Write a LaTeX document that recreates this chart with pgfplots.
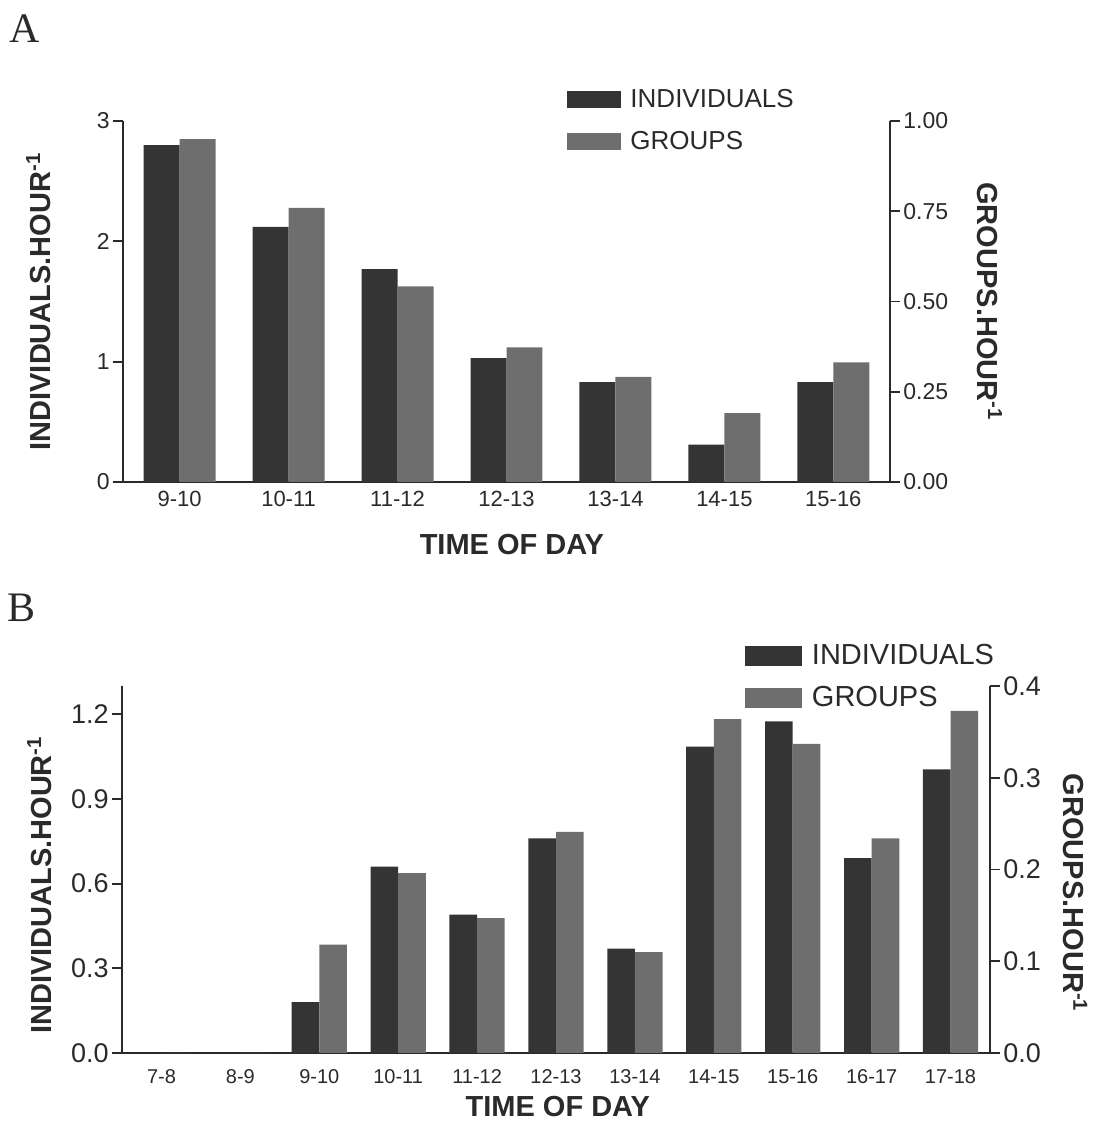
\documentclass[border=0pt]{standalone}
\usepackage{fontspec}
\setmainfont{Liberation Sans}
\newfontfamily\serifA{Liberation Serif}
\usepackage{pgfplots}
\usepackage{pgfplotstable}
\pgfplotsset{compat=1.18}

\definecolor{indiv}{HTML}{343434}
\definecolor{grp}{HTML}{6e6e6e}
\definecolor{axc}{HTML}{2a2a2a}

% panel A: 9-10 ... 15-16
\pgfplotstableread{
x ind grp
0 2.80 0.950
1 2.12 0.759
2 1.77 0.542
3 1.03 0.373
4 0.83 0.291
5 0.31 0.191
6 0.83 0.331
}\dataA

% panel B: 7-8 ... 17-18
\pgfplotstableread{
x ind grp
0 0.00 0.000
1 0.00 0.000
2 0.18 0.118
3 0.66 0.196
4 0.49 0.147
5 0.76 0.241
6 0.37 0.110
7 1.085 0.364
8 1.175 0.337
9 0.69 0.234
10 1.005 0.373
}\dataB

\tikzset{labfont/.style={font=\bfseries\fontsize{14.5}{15}\selectfont, text=axc}}

\pgfplotsset{
  base/.style={
    scale only axis, clip=false, ymin=0,
    axis line style={axc, line width=0.9pt, -},
    tick style={axc, line width=0.9pt},
    tick align=outside, major tick length=5pt,
    xtick style={draw=none},
    /pgf/number format/assume math mode=true,
    /pgf/number format/fixed, /pgf/number format/fixed zerofill,
    yticklabel style={inner sep=1.5pt, text=axc},
    xticklabel style={text=axc, text height=0.72em, text depth=0pt},
  },
}

\begin{document}
\begin{tikzpicture}
\useasboundingbox (0,0) rectangle (550pt,562.5pt);

\node[font=\serifA\fontsize{21}{21}\selectfont, text=axc] at (12.5pt,548pt) {A};
\node[font=\serifA\fontsize{21}{21}\selectfont, text=axc] at (11pt,258.5pt) {B};

% ---------- panel A ----------
\begin{axis}[base, at={(61.5pt,321.5pt)}, anchor=south west,
  width=383.5pt, height=180.5pt,
  xmin=-0.52, xmax=6.52, ymax=3,
  axis y line*=left, axis x line*=bottom,
  ytick={0,1,2,3}, /pgf/number format/precision=0,
  xtick={0,...,6},
  xticklabels={9-10,10-11,11-12,12-13,13-14,14-15,15-16},
  xticklabel style={font=\fontsize{11}{12}\selectfont, yshift=3.5pt},
  yticklabel style={font=\fontsize{11.5}{12}\selectfont},
]
\addplot[ybar, bar width=0.33, bar shift=-0.165, fill=indiv, draw=none]
  table[x=x, y=ind] {\dataA};
\node[labfont, rotate=90] at (axis description cs:-0.11,0.5) {INDIVIDUALS.HOUR\textsuperscript{-1}};
\node[labfont] at (axis description cs:0.507,-0.1745) {TIME OF DAY};
\end{axis}

\begin{axis}[base, at={(61.5pt,321.5pt)}, anchor=south west,
  width=383.5pt, height=180.5pt,
  xmin=-0.52, xmax=6.52, ymax=1,
  axis y line*=right, axis x line=none,
  ytick={0,0.25,0.5,0.75,1}, /pgf/number format/precision=2,
  yticklabel style={font=\fontsize{11.5}{12}\selectfont},
  legend style={at={(axis description cs:0.579,1.0875)}, anchor=north west,
    draw=none, fill=none, inner sep=0pt, outer sep=0pt, row sep=10.4pt,
    font=\fontsize{13}{13}\selectfont, text=axc,
    nodes={inner sep=0pt}, cells={anchor=west}},
  legend image code/.code={\fill[#1] (0pt,-4.25pt) rectangle (27pt,4.25pt); \path (31.7pt,0pt);},
]
\addlegendimage{fill=indiv, draw=none}
\addlegendentry{INDIVIDUALS}
\addplot[ybar, bar width=0.33, bar shift=0.165, fill=grp, draw=none]
  table[x=x, y=grp] {\dataA};
\addlegendentry{GROUPS}
\node[labfont, rotate=-90] at (axis description cs:1.13,0.5) {GROUPS.HOUR\textsuperscript{-1}};
\end{axis}

% ---------- panel B ----------
\begin{axis}[base, at={(61pt,36pt)}, anchor=south west,
  width=434pt, height=183.5pt,
  xmin=-0.5, xmax=10.5, ymax=1.3,
  axis y line*=left, axis x line*=bottom,
  ytick={0,0.3,0.6,0.9,1.2}, /pgf/number format/precision=1,
  xtick={0,...,10},
  xticklabels={7-8,8-9,9-10,10-11,11-12,12-13,13-14,14-15,15-16,16-17,17-18},
  xticklabel style={font=\fontsize{10}{11}\selectfont, yshift=0.5pt},
  yticklabel style={font=\fontsize{13.5}{14}\selectfont},
]
\addplot[ybar, bar width=0.35, bar shift=-0.175, fill=indiv, draw=none]
  table[x=x, y=ind] {\dataB};
\node[labfont, rotate=90] at (axis description cs:-0.095,0.458) {INDIVIDUALS.HOUR\textsuperscript{-1}};
\node[labfont] at (axis description cs:0.502,-0.145) {TIME OF DAY};
\end{axis}

\begin{axis}[base, at={(61pt,36pt)}, anchor=south west,
  width=434pt, height=183.5pt,
  xmin=-0.5, xmax=10.5, ymax=0.4,
  axis y line*=right, axis x line=none,
  ytick={0,0.1,0.2,0.3,0.4}, /pgf/number format/precision=1,
  yticklabel style={font=\fontsize{13.5}{14}\selectfont},
  legend style={at={(axis description cs:0.7177,1.113)}, anchor=north west,
    draw=none, fill=none, inner sep=0pt, outer sep=0pt, row sep=9.35pt,
    font=\fontsize{14.5}{15}\selectfont, text=axc,
    nodes={inner sep=0pt}, cells={anchor=west}},
  legend image code/.code={\fill[#1] (0pt,-5pt) rectangle (28.5pt,5pt); \path (33.5pt,0pt);},
]
\addlegendimage{fill=indiv, draw=none}
\addlegendentry{INDIVIDUALS}
\addplot[ybar, bar width=0.35, bar shift=0.175, fill=grp, draw=none]
  table[x=x, y=grp] {\dataB};
\addlegendentry{GROUPS}
\node[labfont, rotate=-90] at (axis description cs:1.098,0.436) {GROUPS.HOUR\textsuperscript{-1}};
\end{axis}
\end{tikzpicture}
\end{document}
